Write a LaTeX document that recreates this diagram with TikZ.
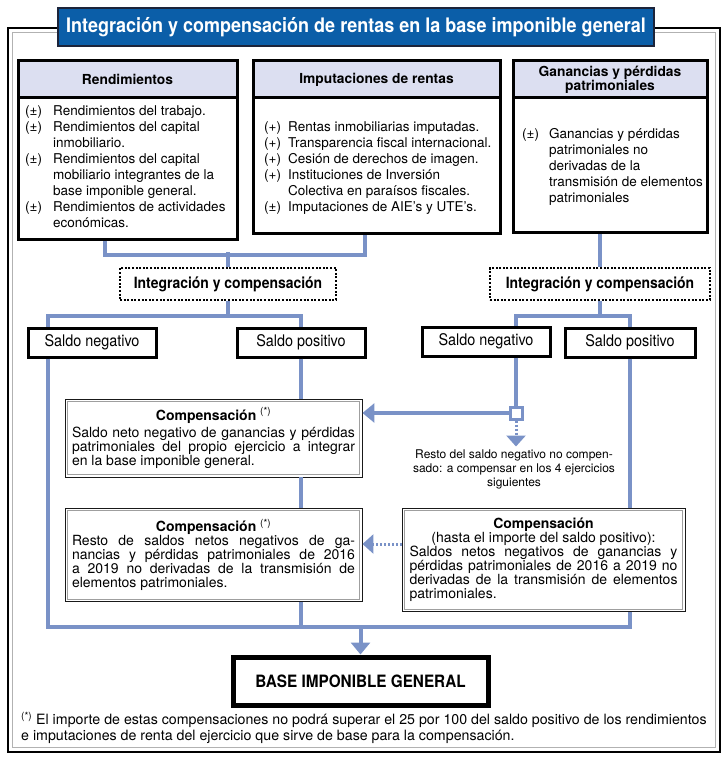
\documentclass[tikz,border=0pt]{standalone}
\usepackage{fontspec}
\setmainfont{TeX Gyre Heros}
\newfontfamily\condfont[FakeStretch=0.9]{TeX Gyre Heros}
\usetikzlibrary{arrows.meta,positioning}
\setlength{\parindent}{0pt}

\definecolor{linkblue}{RGB}{122,146,199}
\definecolor{headfill}{RGB}{220,223,241}
\definecolor{titleblue}{RGB}{11,94,168}
\definecolor{titleline}{RGB}{28,36,58}

% justified and last lines of a box
\newcommand{\jl}[2][283pt]{\makebox[#1][s]{#2}}
\newcommand{\lastl}[2][283pt]{\makebox[#1][l]{#2}}
\newcommand{\fnmark}{\textsuperscript{\normalfont(*)}}

\begin{document}
\begin{tikzpicture}[x=1pt,y=-1pt,
  link/.style={draw=linkblue, line width=4pt},
  linkarrow/.style={link, -{Triangle[width=19pt,length=12pt]}},
  dotarrow/.style={draw=linkblue, line width=3pt, dash pattern=on 2pt off 2pt, -{Triangle[width=19pt,length=11pt]}},
  titlesty/.style={draw=titleline, line width=2pt, fill=titleblue, text=white, font=\condfont\bfseries\fontsize{20}{22}\selectfont},
  topsty/.style={draw, line width=3pt},
  headsty/.style={draw, line width=3pt, fill=headfill, font=\bfseries\fontsize{13.8}{12.5}\selectfont, align=center},
  bodysty/.style={inner sep=0pt, anchor=north west, font=\fontsize{13.5}{16}\selectfont},
  dotsty/.style={draw, line width=2.2pt, dash pattern=on 2pt off 1.6pt, minimum height=32pt, font=\condfont\bfseries\fontsize{15.5}{17}\selectfont},
  saldosty/.style={draw, line width=3pt, minimum width=128pt, minimum height=29pt, font=\condfont\fontsize{16}{18}\selectfont},
  compsty/.style={draw=black!90, line width=0.9pt, fill=white, align=center, font=\fontsize{14}{14}\selectfont},
  innersty/.style={draw=gray!75, line width=0.8pt},
  sqsty/.style={draw=linkblue, line width=3pt, fill=white, minimum size=12pt, inner sep=0pt},
  basesty/.style={draw, line width=5pt, minimum width=255pt, minimum height=48pt, font=\condfont\bfseries\fontsize{17}{19}\selectfont},
  notesty/.style={inner sep=0pt, anchor=north west, align=left, font=\fontsize{14.2}{16}\selectfont}]

\useasboundingbox (0,0) rectangle (727,759);

% frame
\draw[line width=2.5pt] (8,28) rectangle (720,752);
\draw[gray!60, line width=1.2pt] (12.5,32.5) rectangle (715.5,747.5);

\node[titlesty, minimum width=596pt, minimum height=38pt] (title) at (356,27) {Integración y compensación de rentas en la base imponible general};

% top boxes
\node[topsty, minimum width=219pt, minimum height=178pt] (rend) at (127.5,150) {};
\node[headsty, minimum width=219pt, minimum height=37pt, anchor=north] (rendH) at (rend.north) {Rendimientos};
\node[bodysty] (rendT) at (25,104.5) {\begin{tabular}{@{}p{28pt}@{}l@{}}
(±) & Rendimientos del trabajo.\\
(±) & Rendimientos del capital\\
    & inmobiliario.\\
(±) & Rendimientos del capital\\
    & mobiliario integrantes de la\\
    & base imponible general.\\
(±) & Rendimientos de actividades\\
    & económicas.
\end{tabular}};

\node[topsty, minimum width=247pt, minimum height=172pt] (imp) at (376.5,147) {};
\node[headsty, minimum width=247pt, minimum height=37pt, anchor=north] (impH) at (imp.north) {Imputaciones de rentas};
\node[bodysty] (impT) at (264,120.5) {\begin{tabular}{@{}p{24pt}@{}l@{}}
(+) & Rentas inmobiliarias imputadas.\\
(+) & Transparencia fiscal internacional.\\
(+) & Cesión de derechos de imagen.\\
(+) & Instituciones de Inversión\\
    & Colectiva en paraísos fiscales.\\
(±) & Imputaciones de AIE's y UTE's.
\end{tabular}};

\node[topsty, minimum width=194pt, minimum height=171pt] (gan) at (610,146.5) {};
\node[headsty, minimum width=194pt, minimum height=37pt, anchor=north] (ganH) at (gan.north) {Ganancias y pérdidas\\patrimoniales};
\node[bodysty] (ganT) at (522,127.5) {\begin{tabular}{@{}p{27pt}@{}l@{}}
(±) & Ganancias y pérdidas\\
    & patrimoniales no\\
    & derivadas de la\\
    & transmisión de elementos\\
    & patrimoniales
\end{tabular}};

% integration
\node[dotsty, minimum width=216pt] (intL) at (228,284) {Integración y compensación};
\node[dotsty, minimum width=220pt] (intR) at (600,284) {Integración y compensación};

\node[saldosty] (negL) at (92,342.5) {Saldo negativo};
\node[saldosty] (posL) at (301,342.5) {Saldo positivo};
\node[saldosty] (negR) at (486,341.5) {Saldo negativo};
\node[saldosty, minimum width=130pt] (posR) at (630,342.5) {Saldo positivo};

% compensations
\node[compsty, minimum width=297pt, minimum height=78pt] (comp1) at (213.5,438) {{\bfseries Compensación \fnmark}\\[3pt]
  \jl{Saldo neto negativo de ganancias y pérdidas}\\
  \jl{patrimoniales del propio ejercicio a integrar}\\
  \lastl{en la base imponible general.}};
\node[compsty, minimum width=297pt, minimum height=93pt] (comp2) at (213.5,555) {{\bfseries Compensación \fnmark}\\
  \jl{Resto de saldos netos negativos de ga-}\\
  \jl{nancias y pérdidas patrimoniales de 2016}\\
  \jl{a 2019 no derivadas de la transmisión de}\\
  \lastl{elementos patrimoniales.}};
\node[compsty, minimum width=283pt, minimum height=103pt] (comp3) at (543.5,560) {{\bfseries Compensación}\\
  (hasta el importe del saldo positivo):\\
  \jl[268pt]{Saldos netos negativos de ganancias y}\\
  \jl[268pt]{pérdidas patrimoniales de 2016 a 2019 no}\\
  \jl[268pt]{derivadas de la transmisión de elementos}\\
  \lastl[268pt]{patrimoniales.}};
\foreach \c in {comp1,comp2,comp3}
  \draw[innersty] ([shift={(2.6pt,-2.6pt)}]\c.north west) rectangle ([shift={(-2.6pt,2.6pt)}]\c.south east);

\node[sqsty] (sq) at (516,413) {};
\node[anchor=north, align=center, inner sep=0pt, font=\fontsize{12}{14}\selectfont] (resto) at (514,450) {Resto del saldo negativo no compen-\\sado: a compensar en los 4 ejercicios\\siguientes};

\node[basesty] (base) at (360.5,681) {BASE IMPONIBLE GENERAL};

\node[notesty] (note) at (21,712) {\fnmark\ El importe de estas compensaciones no podrá superar el 25 por 100 del saldo positivo de los rendimientos\\e imputaciones de renta del ejercicio que sirve de base para la compensación.};

% connectors
\draw[link] ([xshift=-22.5pt]rend.south) -- ++(0,14) -| ([xshift=-11.5pt]imp.south);
\draw[link] (intL.north) -- ++(0,-15);
\draw[link] (intR.north) -- (intR.north |- gan.south);

\draw[link] (intL.south) -- ++(0,15) coordinate (busL);
\draw[link] ([xshift=-44pt]negL.north) |- (busL) -| (posL.north);
\draw[link] (intR.south) -- ++(0,15) coordinate (busR);
\draw[link] ([xshift=30pt]negR.north) |- (busR) -| (posR.north);

\draw[link] (posL.south) -- (posL.south |- comp1.north);
\draw[link] (posL.south |- comp1.south) -- (posL.south |- comp2.north);
\draw[link] ([xshift=30pt]negR.south) -- (sq.north);
\draw[linkarrow] (sq.west) -- (sq.west -| comp1.east);
\draw[dotarrow] (sq.south) -- ++(0,26);
\draw[link] (posR.south) -- (posR.south |- comp3.north);
\draw[dotarrow] ([yshift=16pt]comp3.west) -- ([yshift=16pt]comp3.west -| comp2.east);

\coordinate (busB) at ([yshift=28pt]base.north);
\draw[link] ([xshift=-44pt]negL.south) |- (busB) -| (posR.south |- comp3.south);
\draw[link] (posL.south |- comp2.south) -- (posL.south |- busB);
\draw[linkarrow] (busB) -- (base.north);

\end{tikzpicture}
\end{document}
